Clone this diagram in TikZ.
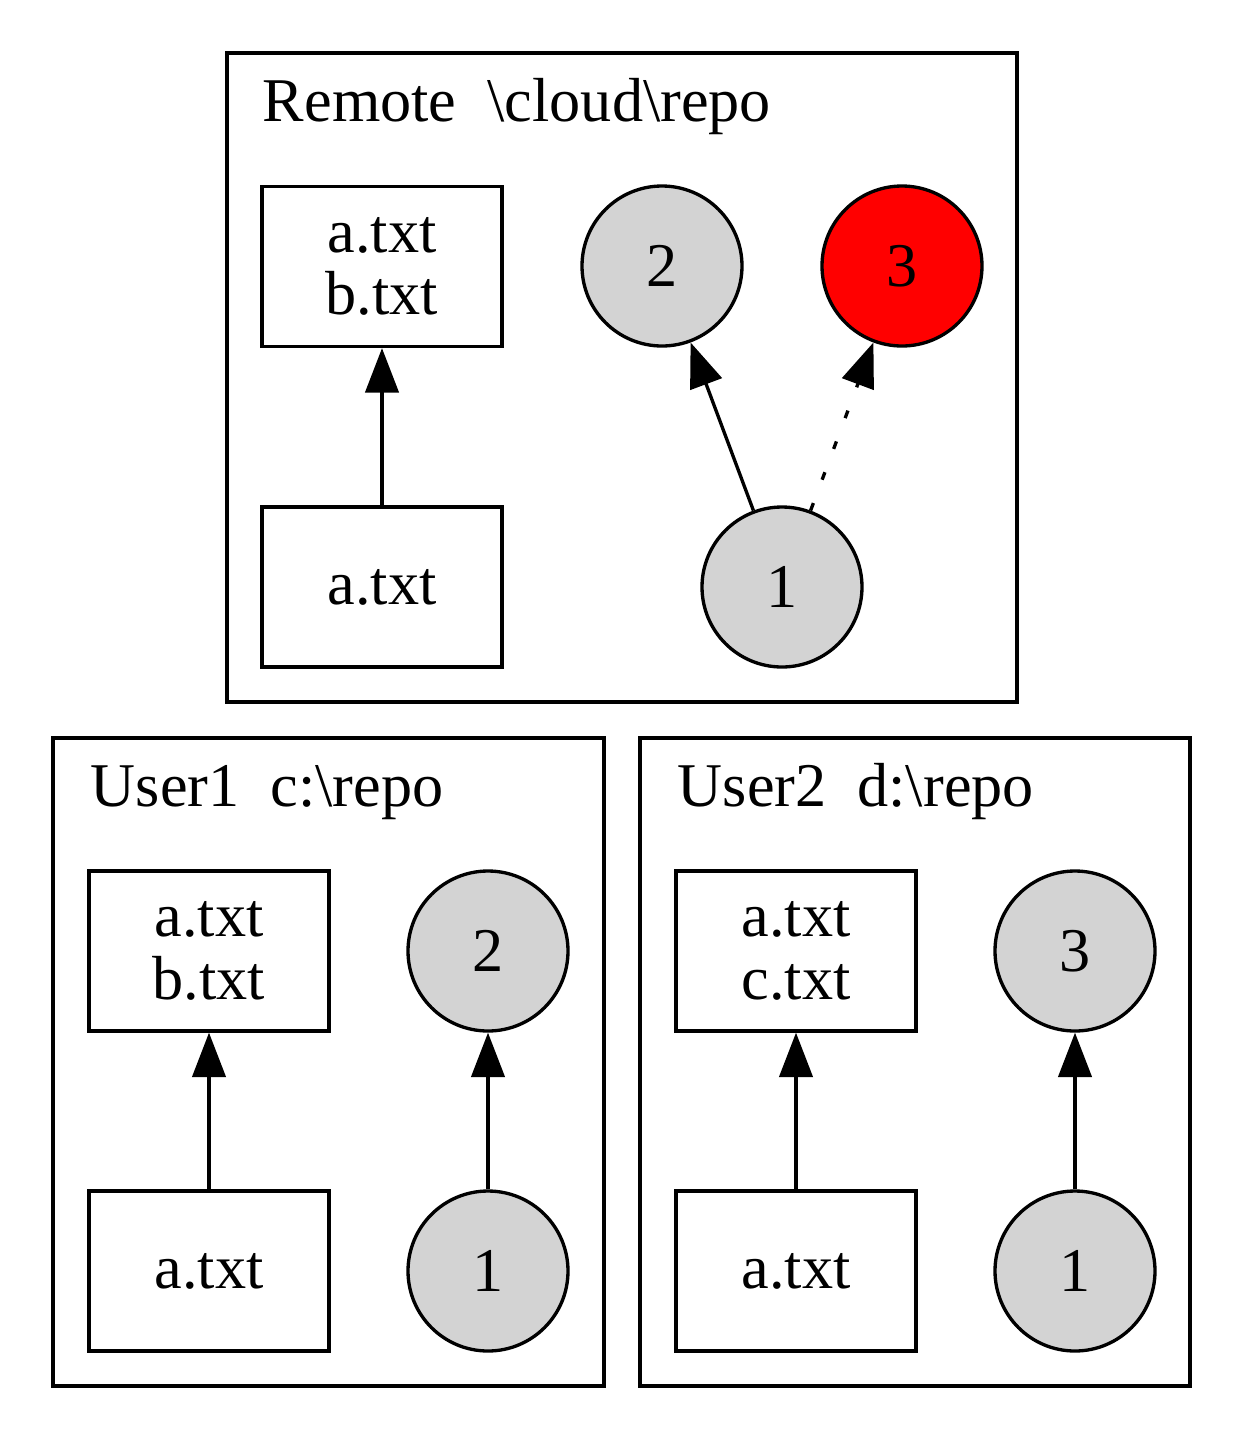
\documentclass[tikz,border=0pt]{standalone}
\usepackage{fontspec}
\setmainfont{Liberation Serif}
\usetikzlibrary{arrows.meta}
\begin{document}
\begin{tikzpicture}[x=0.225pt,y=-0.225pt,
  every node/.style={font=\fontsize{14pt}{14pt}\selectfont},
  cluster/.style={draw,line width=0.75pt},
  filebox/.style={draw,line width=0.75pt,rectangle,minimum width=54pt,minimum height=36pt,inner sep=0pt,align=center},
  commit/.style={draw,line width=0.75pt,circle,minimum size=36pt,inner sep=0pt,fill={rgb,255:red,211;green,211;blue,211}},
  headcommit/.style={commit,fill=red},
  lbl/.style={anchor=base west,inner sep=0pt},
  conn/.style={line width=0.75pt,-{Triangle[length=10pt,width=7.5pt]}},
  dottedconn/.style={conn,dash pattern=on 1.8pt off 5.6pt}
]
\useasboundingbox (0,0) rectangle (1244,1440);
% clusters
\draw[cluster] (227,53) rectangle (1017,702);
\draw[cluster] (53,738) rectangle (604,1386);
\draw[cluster] (640,738) rectangle (1190,1386);
\node[lbl] (lr) at (262,121) {Remote\ \ \textbackslash cloud\textbackslash repo};
\node[lbl] (l1) at (90,806) {User1\ \ c:\textbackslash repo};
\node[lbl] (l2) at (677,806) {User2\ \ d:\textbackslash repo};
% remote
\node[filebox] (rA2) at (382,266.5) {a.txt\\b.txt};
\node[filebox] (rA1) at (382,587) {a.txt};
\node[commit] (r2) at (662,266) {2};
\node[headcommit] (r3) at (902,266) {3};
\node[commit] (r1) at (782,587) {1};
\draw[conn] (rA1) -- (rA2);
\draw[conn] (r1) -- (r2);
\draw[dottedconn] (r1) -- (r3);
% user1
\node[filebox] (uA2) at (209,951) {a.txt\\b.txt};
\node[filebox] (uA1) at (209,1271) {a.txt};
\node[commit] (u2) at (488,951) {2};
\node[commit] (u1) at (488,1271) {1};
\draw[conn] (uA1) -- (uA2);
\draw[conn] (u1) -- (u2);
% user2
\node[filebox] (vA2) at (796,951) {a.txt\\c.txt};
\node[filebox] (vA1) at (796,1271) {a.txt};
\node[commit] (v3) at (1075,951) {3};
\node[commit] (v1) at (1075,1271) {1};
\draw[conn] (vA1) -- (vA2);
\draw[conn] (v1) -- (v3);
\end{tikzpicture}
\end{document}
